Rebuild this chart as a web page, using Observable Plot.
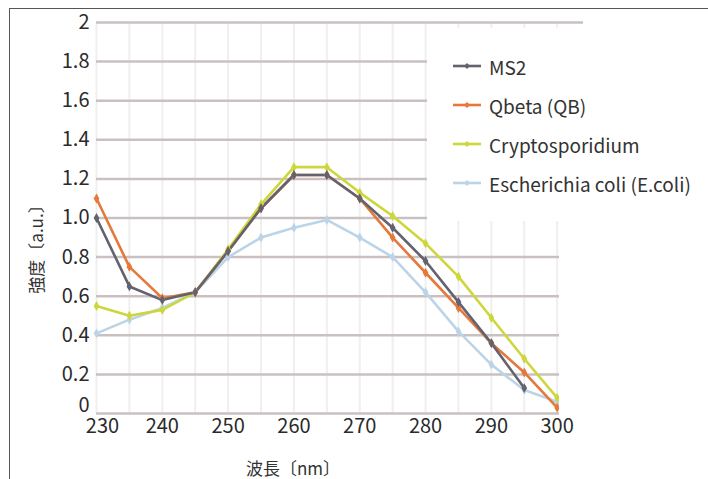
<!DOCTYPE html>
<html>
<head>
<meta charset="utf-8">
<script src="https://cdn.jsdelivr.net/npm/d3@7"></script>
<script src="https://cdn.jsdelivr.net/npm/@observablehq/plot@0.6"></script>
<style>
  body { margin: 0; background: #fff; }
  #wrap { position: relative; width: 708px; height: 479px; overflow: hidden; background: #fff;
          font-family: "Noto Sans CJK JP", "Noto Sans", sans-serif; color: #333; }
  #chart { position: absolute; left: 0; top: 0; }
  #frame { position: absolute; left: 9px; top: 8px; width: 710px; height: 480px;
           border-left: 1.5px solid #555; border-top: 1.5px solid #555; pointer-events: none; }
  .patch { position: absolute; background: #fff; }
  #legend { position: absolute; left: 427px; top: 28px; width: 281px; height: 193px; background: #fff; }
  .item { position: absolute; left: 26px; height: 24px; display: flex; align-items: center; font-size: 19px; color: #333; white-space: nowrap; }
  .item svg { margin-right: 8px; }
  #xtitle { position: absolute; left: 293px; top: 467px; transform: translate(-50%, -50%); font-size: 17px; white-space: nowrap; }
  #ytitle { position: absolute; left: 35px; top: 245px; transform: translate(-50%, -50%) rotate(-90deg); font-size: 17px; white-space: nowrap; }
</style>
</head>
<body>
<div id="wrap">
  <div id="chart"></div>
  <div class="patch" style="left:559px; top:221px; width:149px; height:195px;"></div>
  <div id="legend"></div>
  <div id="frame"></div>
  <div id="xtitle">波長〔nm〕</div>
  <div id="ytitle">強度〔a.u.〕</div>
</div>
<script>
// ---- data ----
const wavelengths = [230, 235, 240, 245, 250, 255, 260, 265, 270, 275, 280, 285, 290, 295, 300];
const seriesNames = ["MS2", "Qbeta (QB)", "Cryptosporidium", "Escherichia coli (E.coli)"];
const seriesColors = ["#62636f", "#e5783a", "#cdd73c", "#bcd4e8"];
const ms2Values    = [1.00, 0.65, 0.58, 0.62, 0.83, 1.05, 1.22, 1.22, 1.10, 0.95, 0.78, 0.57, 0.36, 0.13, null];
const qbetaValues  = [1.10, 0.75, 0.59, 0.62, 0.83, 1.05, 1.22, 1.22, 1.10, 0.90, 0.72, 0.54, 0.36, 0.21, 0.03];
const cryptoValues = [0.55, 0.50, 0.53, 0.62, 0.84, 1.07, 1.26, 1.26, 1.13, 1.01, 0.87, 0.70, 0.49, 0.28, 0.08];
const ecoliValues  = [0.41, 0.48, 0.54, 0.62, 0.80, 0.90, 0.95, 0.99, 0.90, 0.80, 0.62, 0.42, 0.25, 0.12, 0.06];
const yTicks = [0.2, 0.4, 0.6, 0.8, 1.0, 1.2, 1.4, 1.6, 1.8, 2.0];
const yZeroTick = [0];
const xFirstTick = [230];
const xTicks = [240, 250, 260, 270, 280, 290, 300];
const xGrid = [230, 235, 240, 245, 250, 255, 260, 265, 270, 275, 280, 285, 290, 295, 300];
const yGrid = [0, 0.2, 0.4, 0.6, 0.8, 1.0, 1.2, 1.4, 1.6, 1.8, 2.0];

// ---- table ----
const allValues = [ms2Values, qbetaValues, cryptoValues, ecoliValues];
const drawOrder = [3, 2, 1, 0];
const table = [];
for (const i of drawOrder) {
  wavelengths.forEach((w, j) => {
    const v = allValues[i][j];
    if (v != null) table.push({ series: seriesNames[i], wl: w, value: v });
  });
}

const yFmt = d => (d === 0 || d === 2) ? String(d) : d.toFixed(1);
const axisText = { fill: "#2a2a2a" };

const chart = Plot.plot({
  width: 708,
  height: 479,
  marginLeft: 96,
  marginRight: 125,
  marginTop: 22,
  marginBottom: 66,
  style: { fontFamily: '"Noto Sans CJK JP", "Noto Sans", sans-serif', background: "transparent", color: "#2a2a2a" },
  x: { domain: [230, 304] },
  y: { domain: [0, 2] },
  color: { domain: seriesNames, range: seriesColors },
  marks: [
    Plot.ruleX(xGrid, { x: d => d, y1: 0, y2: 2, stroke: "#efefef", strokeWidth: 2 }),
    Plot.ruleY(yGrid, { y: d => d, stroke: "#c9c1c1", strokeWidth: 2.5 }),
    Plot.line(table, { x: "wl", y: "value", z: "series", stroke: "series", strokeWidth: 2.6, strokeLinejoin: "round" }),
    Plot.dot(table, { x: "wl", y: "value", fill: "series", symbol: "diamond", r: 3 }),
    Plot.axisY(yTicks, { tickSize: 0, tickPadding: 7, fontSize: 20, label: null, tickFormat: yFmt, ...axisText }),
    Plot.axisY(yZeroTick, { tickSize: 0, tickPadding: 7, fontSize: 20, label: null, tickFormat: yFmt, dy: -8, ...axisText }),
    Plot.axisX(xTicks, { tickSize: 0, tickPadding: 5, fontSize: 20, label: null, tickFormat: d => String(d), ...axisText }),
    Plot.axisX(xFirstTick, { tickSize: 0, tickPadding: 5, fontSize: 20, label: null, tickFormat: d => String(d), dx: 6, ...axisText })
  ]
});
document.getElementById("chart").appendChild(chart);

// ---- legend ----
const legend = document.getElementById("legend");
const rowCenters = [38, 77, 116, 155];
seriesNames.forEach((name, i) => {
  const item = document.createElement("div");
  item.className = "item";
  item.style.top = (rowCenters[i] - 12) + "px";
  const c = seriesColors[i];
  item.innerHTML = `<svg width="28" height="10"><line x1="0" y1="5" x2="28" y2="5" stroke="${c}" stroke-width="2.6"/><path d="M14 2 L17 5 L14 8 L11 5 Z" fill="${c}"/></svg><span>${name}</span>`;
  legend.appendChild(item);
});
</script>
</body>
</html>
